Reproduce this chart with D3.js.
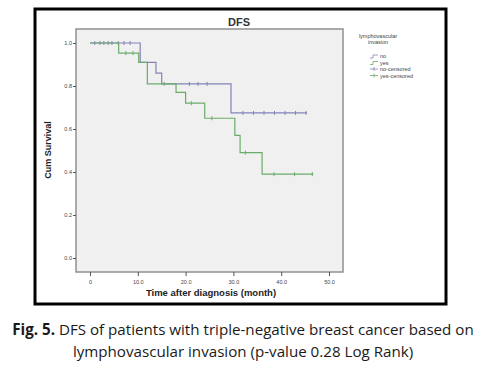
<!DOCTYPE html>
<html>
<head>
<meta charset="utf-8">
<script src="https://cdn.jsdelivr.net/npm/d3@7"></script>
<style>
  body { margin: 0; background: #fff; }
  svg { display: block; }
</style>
</head>
<body>
<div id="chart"></div>
<script>
// Kaplan-Meier steps: [time, survival after the step]
const noSteps = [[0, 1.0], [10.5, 0.91], [13.8, 0.86], [15.0, 0.81], [29.5, 0.675]];
const noEnd = 45.4;
const noCensored = [1, 2.1, 2.9, 3.8, 4.6, 5.9, 7.1, 8.4, 20.8, 22.6, 24.5, 32, 34.2, 36.4, 38.6, 40.8, 43, 45.2];

const yesSteps = [[0, 1.0], [6.0, 0.953], [10.2, 0.91], [12.0, 0.81], [18.0, 0.77], [20.0, 0.72], [24.0, 0.65], [30.3, 0.57], [31.4, 0.49], [36.0, 0.39]];
const yesEnd = 46.7;
const yesCensored = [7.5, 9, 15.5, 21.2, 25.5, 32.5, 38.5, 42.8, 46.5];

const xTicks = [0, 10, 20, 30, 40, 50];
const yTicks = [0, 0.2, 0.4, 0.6, 0.8, 1.0];
const legendItems = ["no", "yes", "no-censored", "yes-censored"];

const W = 485, H = 365;
const blue = "#8282b8", green = "#6aad6a";
const svg = d3.select("#chart").append("svg")
    .attr("width", W).attr("height", H);

// outer black frame of the figure
svg.append("rect")
    .attr("x", 35).attr("y", 9).attr("width", 411).attr("height", 295)
    .attr("fill", "#fff").attr("stroke", "#000").attr("stroke-width", 3);

// plot box
const box = {left: 76, top: 29, right: 343, bottom: 272};
svg.append("rect")
    .attr("x", box.left).attr("y", box.top)
    .attr("width", box.right - box.left).attr("height", box.bottom - box.top)
    .attr("fill", "#f0f0f0").attr("stroke", "#909090").attr("stroke-width", 1.5);

const x = d3.scaleLinear().domain([0, 50]).range([90, 329]);
const y = d3.scaleLinear().domain([0, 1]).range([258, 43]);

// axes
svg.append("g")
    .attr("transform", "translate(0," + box.bottom + ")")
    .call(d3.axisBottom(x).tickValues(xTicks).tickSize(4).tickSizeOuter(0)
        .tickFormat(d => d === 0 ? "0" : d.toFixed(1)))
    .call(g => g.select(".domain").remove())
    .call(g => g.selectAll("line").attr("stroke", "#555"))
    .call(g => g.selectAll("text").attr("fill", "#444")
        .attr("font-family", "Liberation Sans, Arial").attr("font-size", 5.5).attr("dy", "0.9em"));

svg.append("g")
    .attr("transform", "translate(" + box.left + ",0)")
    .call(d3.axisLeft(y).tickValues(yTicks).tickSize(3).tickSizeOuter(0)
        .tickFormat(d3.format(".1f")))
    .call(g => g.select(".domain").remove())
    .call(g => g.selectAll("line").attr("stroke", "#555"))
    .call(g => g.selectAll("text").attr("fill", "#444")
        .attr("font-family", "Liberation Sans, Arial").attr("font-size", 5.5).attr("x", -4));

// title and axis titles
svg.append("text")
    .attr("x", 239).attr("y", 26).attr("text-anchor", "middle")
    .attr("font-family", "Liberation Sans, Arial").attr("font-weight", "bold")
    .attr("font-size", 11).attr("fill", "#333").text("DFS");

svg.append("text")
    .attr("transform", "translate(51,150) rotate(-90)").attr("text-anchor", "middle")
    .attr("font-family", "Liberation Sans, Arial").attr("font-weight", "bold")
    .attr("font-size", 9).attr("fill", "#222").text("Cum Survival");

svg.append("text")
    .attr("x", 211).attr("y", 296).attr("text-anchor", "middle")
    .attr("font-family", "Liberation Sans, Arial").attr("font-weight", "bold")
    .attr("font-size", 9.5).attr("fill", "#222").text("Time after diagnosis (month)");

// survival curves
function stepPath(steps, end) {
    const pts = [];
    steps.forEach((s, i) => {
        if (i > 0) pts.push([s[0], steps[i - 1][1]]);
        pts.push(s);
    });
    pts.push([end, steps[steps.length - 1][1]]);
    return d3.line().x(d => x(d[0])).y(d => y(d[1]))(pts);
}
function survAt(steps, t) {
    let v = steps[0][1];
    steps.forEach(s => { if (s[0] <= t) v = s[1]; });
    return v;
}

const series = [
    {steps: noSteps, end: noEnd, cens: noCensored, color: blue},
    {steps: yesSteps, end: yesEnd, cens: yesCensored, color: green}
];

series.forEach(s => {
    svg.append("path")
        .attr("d", stepPath(s.steps, s.end))
        .attr("fill", "none").attr("stroke", s.color).attr("stroke-width", 1.2);
    svg.selectAll(null)
        .data(s.cens)
        .enter()
        .append("line")
        .attr("x1", d => x(d)).attr("x2", d => x(d))
        .attr("y1", d => y(survAt(s.steps, d)) - 2)
        .attr("y2", d => y(survAt(s.steps, d)) + 2)
        .attr("stroke", s.color).attr("stroke-width", 1);
});

// legend
const lg = svg.append("g").attr("font-family", "Liberation Sans, Arial")
    .attr("fill", "#444").attr("font-size", 5.5);
lg.append("text").attr("x", 378).attr("y", 38).attr("text-anchor", "middle").text("lymphovascular");
lg.append("text").attr("x", 378).attr("y", 44).attr("text-anchor", "middle").text("invasion");
legendItems.forEach((name, i) => {
    const yy = 57 + i * 6.5;
    const col = i % 2 === 0 ? blue : green;
    if (i < 2) {
        lg.append("path").attr("d", "M370," + (yy + 1) + "h3v-3h5")
            .attr("fill", "none").attr("stroke", col).attr("stroke-width", 0.8);
    } else {
        lg.append("line").attr("x1", 370).attr("x2", 378).attr("y1", yy - 1).attr("y2", yy - 1)
            .attr("stroke", col).attr("stroke-width", 0.8);
        lg.append("line").attr("x1", 374).attr("x2", 374).attr("y1", yy - 3).attr("y2", yy + 1)
            .attr("stroke", col).attr("stroke-width", 0.8);
    }
    lg.append("text").attr("x", 380).attr("y", yy + 1).text(name);
});

// caption
const cap = svg.append("g").attr("font-family", "Open Sans, Noto Sans, sans-serif")
    .attr("fill", "#1a1a1a");
const line1 = cap.append("text").attr("x", 243).attr("y", 335).attr("text-anchor", "middle");
line1.append("tspan").attr("font-weight", "bold").text("Fig. 5.");
line1.append("tspan").text(" DFS of patients with triple-negative breast cancer based on");
const line2 = cap.append("text").attr("x", 243).attr("y", 357).attr("text-anchor", "middle")
    .text("lymphovascular invasion (p-value 0.28 Log Rank)");

// fit caption line 1 to the width it has in the figure
let fs = 15;
line1.attr("font-size", fs);
const w = line1.node().getComputedTextLength();
fs = fs * 462 / w;
line1.attr("font-size", fs);
line2.attr("font-size", fs);
</script>
</body>
</html>
